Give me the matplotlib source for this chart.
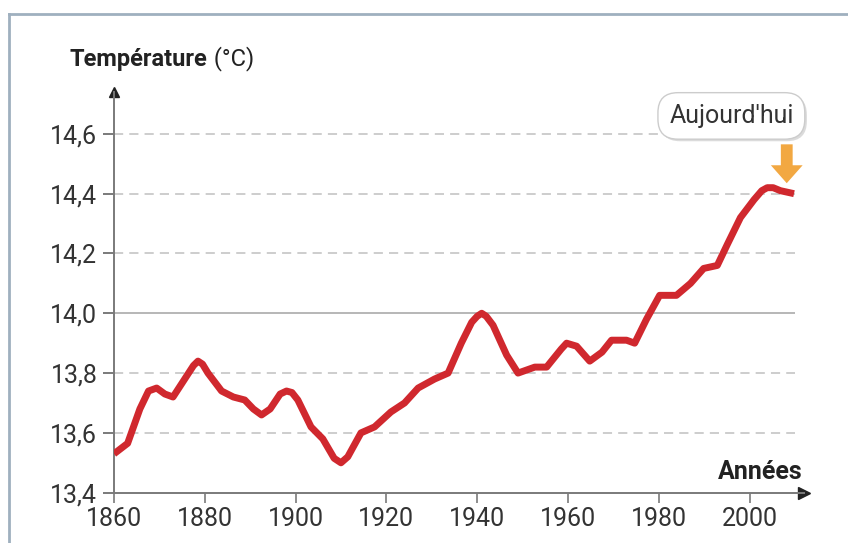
import matplotlib.pyplot as plt
import matplotlib.patheffects as pe
from matplotlib.lines import Line2D

# valeurs
annees = [1860, 1863, 1865.7, 1867.6, 1869.4, 1871.2, 1873, 1876, 1877.5, 1878.5, 1879.5, 1880.7,
          1883.7, 1886.3, 1888.8, 1890.7, 1892.5, 1894.4, 1896.6, 1898, 1899.2, 1900.5, 1903.4,
          1906, 1908.5, 1910, 1911.5, 1914.4, 1917.4, 1921, 1924, 1927, 1930.6, 1933.6, 1936.5,
          1938.8, 1940, 1941, 1942, 1943.5, 1946.5, 1949, 1952.7, 1955.3, 1958.5, 1959.7, 1961.9,
          1964.8, 1967.5, 1969.6, 1972.9, 1974.7, 1977.3, 1980.2, 1983.9, 1987, 1989.9, 1992.9,
          1995.1, 1998, 2001, 2002.7, 2003.9, 2005.2, 2006.8, 2009.8]
temperatures = [13.53, 13.565, 13.68, 13.74, 13.75, 13.73, 13.72, 13.79, 13.825, 13.84, 13.83, 13.80,
                13.74, 13.72, 13.71, 13.68, 13.66, 13.68, 13.73, 13.74, 13.735, 13.71, 13.62,
                13.58, 13.515, 13.50, 13.52, 13.60, 13.62, 13.67, 13.70, 13.75, 13.78, 13.80, 13.90,
                13.97, 13.99, 14.00, 13.99, 13.96, 13.86, 13.80, 13.82, 13.82, 13.88, 13.90, 13.89,
                13.84, 13.87, 13.91, 13.91, 13.90, 13.98, 14.06, 14.06, 14.10, 14.15, 14.16,
                14.23, 14.32, 14.38, 14.41, 14.42, 14.42, 14.41, 14.40]

yticks = [13.4, 13.6, 13.8, 14.0, 14.2, 14.4, 14.6]
xticks = [1860, 1880, 1900, 1920, 1940, 1960, 1980, 2000]

plt.rcParams['font.family'] = ['Roboto', 'DejaVu Sans']
gris = '#7a7a7a'
texte = '#333333'

fig = plt.figure(figsize=(8.48, 5.43), dpi=100)
W, H = 848, 543
ax = fig.add_axes([114 / W, 1 - 492.7 / H, 690 / W, 400.7 / H])
ax.set_xlim(1860, 2012)
ax.set_ylim(13.4, 14.74)

# cadre
fig.add_artist(Line2D([9 / W, 9 / W], [0, 1 - 14 / H], color='#9fb0bf', lw=2))
fig.add_artist(Line2D([9 / W, 1], [1 - 14 / H, 1 - 14 / H], color='#9fb0bf', lw=2))

# lignes de repere
for y in yticks[1:]:
    if y == 14.0:
        ax.hlines(y, 1860, 2010, color='#aaaaaa', lw=1.2, zorder=1)
    else:
        ax.hlines(y, 1860, 2010, color='#c0c0c0', lw=1.1, linestyles=(0, (6, 4)), zorder=1)

ax.plot(annees, temperatures, color='#d0282e', lw=5, solid_joinstyle='round',
        solid_capstyle='butt', zorder=3)

for s in ['top', 'right']:
    ax.spines[s].set_visible(False)
for s in ['left', 'bottom']:
    ax.spines[s].set_color(gris)
    ax.spines[s].set_linewidth(1.4)
ax.plot(1, 0, '>', color='#222222', ms=9, transform=ax.transAxes, clip_on=False)
ax.plot(0, 1, '^', color='#222222', ms=7, transform=ax.transAxes, clip_on=False)

ax.set_yticks(yticks)
ax.set_yticklabels([f'{v:.1f}'.replace('.', ',') for v in yticks])
ax.set_xticks(xticks)
ax.set_xticklabels([str(v) for v in xticks])
ax.tick_params(axis='y', length=8, width=1.4, color=gris, pad=4, labelsize=18, labelcolor=texte)
ax.tick_params(axis='x', length=7, width=1.2, color=gris, pad=3, labelsize=18, labelcolor=texte)

t = fig.text(70 / W, 1 - 66 / H, 'Température', fontsize=17, fontweight='bold',
             color='#222222', va='baseline')
ax.annotate(' (°C)', xy=(1, 0), xycoords=t, va='bottom', fontsize=17, color='#222222')
fig.text(803 / W, 1 - 479 / H, 'Années', fontsize=18, fontweight='bold',
         color='#222222', ha='right', va='baseline')

# etiquette "Aujourd'hui"
lab = ax.text(1996.0, 14.66, "Aujourd'hui", fontsize=18, color=texte, ha='center', va='center',
              bbox=dict(boxstyle='round,pad=0.45,rounding_size=0.8', fc='white', ec='#cccccc', lw=1),
              zorder=5)
lab.get_bbox_patch().set_path_effects([pe.withSimplePatchShadow(offset=(1.5, -1.5), alpha=0.2)])
ax.arrow(2008.2, 14.565, 0, -0.13, width=2.6, head_width=7, head_length=0.06,
         length_includes_head=True, color='#f2a842', ec='none', zorder=4, clip_on=False)

fig.savefig('out.png', dpi=100)
